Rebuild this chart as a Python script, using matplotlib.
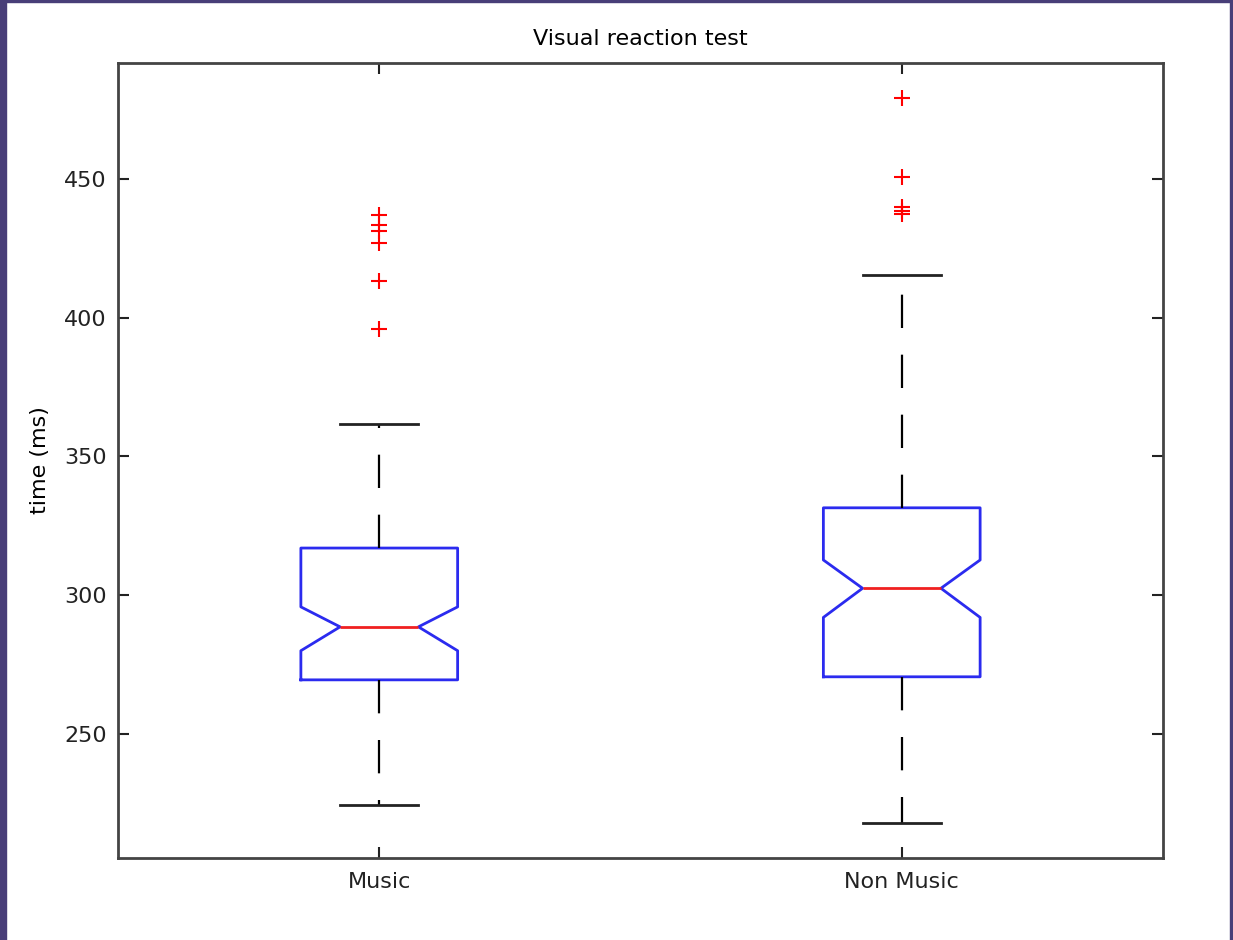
import matplotlib.pyplot as plt
from matplotlib.patches import Rectangle

# box statistics (ms), read per group
groups = ["Music", "Non Music"]
medians = [288.6, 302.5]
q1s = [269.5, 270.6]
q3s = [317.0, 331.5]
notch_lo = [280.0, 292.0]
notch_hi = [295.8, 312.7]
whisk_lo = [224.4, 217.9]
whisk_hi = [361.7, 415.4]
outliers = [
    [396.0, 413.4, 427.0, 431.4, 433.4, 437.0],
    [437.4, 438.5, 440.0, 450.6, 479.1],
]
y_ticks = [250, 300, 350, 400, 450]

stats = []
for i, name in enumerate(groups):
    stats.append({
        "label": name,
        "med": medians[i],
        "q1": q1s[i],
        "q3": q3s[i],
        "cilo": notch_lo[i],
        "cihi": notch_hi[i],
        "whislo": whisk_lo[i],
        "whishi": whisk_hi[i],
        "fliers": outliers[i],
    })

plt.rcParams["font.family"] = "DejaVu Sans"

fig = plt.figure(figsize=(12.33, 9.4), dpi=100)
ax = fig.add_axes([118 / 1233, 82 / 940, 1045 / 1233, 795 / 940])

ax.bxp(
    stats,
    positions=[1, 2],
    widths=0.3,
    shownotches=True,
    boxprops=dict(color="#2b2bef", linewidth=2),
    medianprops=dict(color="#f02020", linewidth=2),
    whiskerprops=dict(color="black", linewidth=1.6, dashes=(15, 12)),
    capprops=dict(color="#222222", linewidth=2),
    flierprops=dict(marker="+", markeredgecolor="red", markersize=12,
                    markeredgewidth=1.5, linestyle="none"),
)

ax.set_xlim(0.5, 2.5)
ax.set_ylim(205.3, 491.8)
ax.set_yticks(y_ticks)
ax.set_xticks([1, 2])
ax.set_xticklabels(groups)
ax.tick_params(direction="in", length=8, width=1.5, labelsize=16,
               top=True, right=True, pad=8, colors="#222222")
ax.tick_params(axis="x", pad=10)
for sp in ax.spines.values():
    sp.set_linewidth(2)
    sp.set_color("#444444")

ax.set_title("Visual reaction test", fontsize=16, pad=13)
ax.set_ylabel("time (ms)", fontsize=16, labelpad=10)

# purple frame around the figure
frame = "#483e78"
fig.patches.append(Rectangle((0, 0), 6 / 1233, 1, transform=fig.transFigure,
                             color=frame, zorder=5))
fig.patches.append(Rectangle((1 - 3 / 1233, 0), 3 / 1233, 1,
                             transform=fig.transFigure, color=frame, zorder=5))
fig.patches.append(Rectangle((0, 1 - 2 / 940), 1, 2 / 940,
                             transform=fig.transFigure, color=frame, zorder=5))

fig.savefig("out.png", dpi=100)
